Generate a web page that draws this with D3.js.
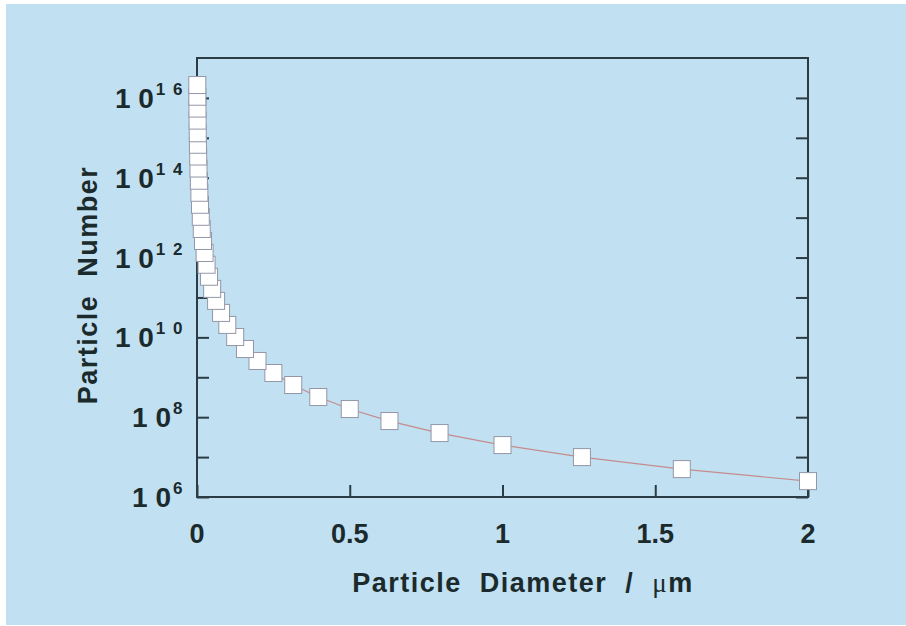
<!DOCTYPE html>
<html>
<head>
    <script type="text/javascript" src="https://cdn.jsdelivr.net/npm/d3@7"></script>
    <style>
        body { margin: 0; background: #ffffff; }
        text { font-family: "Liberation Sans", Arial, sans-serif; font-weight: bold; fill: #1b2a2c; }
    </style>
</head>
<body>
    <div id="chart"></div>
    <script type="text/javascript">

        // particle diameter (um) and particle number
        let diameters = [2, 1.587, 1.26, 1, 0.794, 0.63, 0.5, 0.397, 0.315, 0.25,
            0.198, 0.157, 0.125, 0.0992, 0.0787, 0.0625, 0.0496, 0.0394, 0.0313, 0.0248,
            0.0197, 0.0156, 0.0124, 0.00984, 0.00781, 0.0062, 0.00492, 0.0039, 0.0031, 0.00246,
            0.00195, 0.00155, 0.00123, 0.000977];
        let numbers = [2.5e6, 5e6, 1e7, 2e7, 4e7, 8e7, 1.6e8, 3.2e8, 6.4e8, 1.28e9,
            2.56e9, 5.1e9, 1.02e10, 2.05e10, 4.1e10, 8.2e10, 1.64e11, 3.3e11, 6.6e11, 1.3e12,
            2.6e12, 5.2e12, 1.05e13, 2.1e13, 4.2e13, 8.4e13, 1.7e14, 3.4e14, 6.7e14, 1.3e15,
            2.7e15, 5.4e15, 1.07e16, 2.1e16];
        let xTicks = [0, 0.5, 1, 1.5, 2];
        let xTickLabels = ["0", "0.5", "1", "1.5", "2"];
        let yTicks = [1e6, 1e7, 1e8, 1e9, 1e10, 1e11, 1e12, 1e13, 1e14, 1e15, 1e16];
        let yLabelExps = ["6", "8", "1 0", "1 2", "1 4", "1 6"];
        let yLabelValues = [1e6, 1e8, 1e10, 1e12, 1e14, 1e16];

        let points = [];
        for (let i = 0; i < diameters.length; i++) {
            points.push([diameters[i], numbers[i]]);
        };

        let plotLeft = 197, plotRight = 808, plotTop = 58, plotBottom = 497;
        let axisColor = "#2b3c44";

        let x = d3.scaleLinear().domain([0, 2]).range([plotLeft, plotRight]);
        let y = d3.scaleLog().domain([1e6, 1e17]).range([plotBottom, plotTop]);

        let svg = d3.select("#chart")
            .append("svg")
            .attr("width", 906)
            .attr("height", 626);

        svg.append("rect")
            .attr("x", 6).attr("y", 4)
            .attr("width", 900).attr("height", 621)
            .style("fill", "#c1e0f1");

        // inward ticks on three sides
        let gLeft = svg.append("g").attr("transform", `translate(${plotLeft},0)`)
            .call(d3.axisLeft(y).tickValues(yTicks).tickSize(-12).tickFormat(""));
        let gRight = svg.append("g").attr("transform", `translate(${plotRight},0)`)
            .call(d3.axisRight(y).tickValues(yTicks).tickSize(-12).tickFormat(""));
        let gBottom = svg.append("g").attr("transform", `translate(0,${plotBottom})`)
            .call(d3.axisBottom(x).tickValues(xTicks).tickSize(-12).tickFormat(""));
        [gLeft, gRight, gBottom].forEach(g => {
            g.select(".domain").remove();
            g.selectAll("line").style("stroke", axisColor).style("stroke-width", 2);
        });

        svg.append("rect")
            .attr("x", plotLeft).attr("y", plotTop)
            .attr("width", plotRight - plotLeft).attr("height", plotBottom - plotTop)
            .style("fill", "none")
            .style("stroke", axisColor)
            .style("stroke-width", 2);

        // x tick labels
        svg.selectAll("text.xlab")
            .data(xTicks)
            .enter()
            .append("text")
            .attr("class", "xlab")
            .attr("x", d => x(d))
            .attr("y", plotBottom + 46)
            .attr("text-anchor", "middle")
            .style("font-size", "27px")
            .text((d, i) => xTickLabels[i]);

        // y tick labels 10^n
        let ylab = svg.selectAll("text.ylab")
            .data(yLabelValues)
            .enter()
            .append("text")
            .attr("class", "ylab")
            .attr("x", 184)
            .attr("y", d => y(d) + 10)
            .attr("text-anchor", "end")
            .attr("xml:space", "preserve");
        ylab.append("tspan").style("font-size", "28px").text("1 0");
        ylab.append("tspan").style("font-size", "17px").style("letter-spacing", "1.5px")
            .attr("dy", -13).attr("dx", 2)
            .text((d, i) => yLabelExps[i]);

        // axis titles
        let xt = svg.append("text")
            .attr("x", 523).attr("y", 592)
            .attr("text-anchor", "middle")
            .attr("xml:space", "preserve")
            .style("font-size", "27px")
            .style("letter-spacing", "1.5px");
        xt.append("tspan").text("Particle  Diameter  /  ");
        xt.append("tspan")
            .style("font-family", "'Liberation Serif', serif")
            .style("font-weight", "normal")
            .text("\u03bc");
        xt.append("tspan").text("m");

        svg.append("text")
            .attr("transform", "translate(97,285) rotate(-90)")
            .attr("text-anchor", "middle")
            .attr("xml:space", "preserve")
            .style("font-size", "27px")
            .style("letter-spacing", "1.5px")
            .text("Particle  Number");

        // connecting line then markers
        let line = d3.line().x(d => x(d[0])).y(d => y(d[1]));
        svg.append("path")
            .datum(points)
            .attr("d", line)
            .style("fill", "none")
            .style("stroke", "#c48c8c")
            .style("stroke-width", 1.2);

        let size = 17;
        svg.selectAll("rect.pt")
            .data(points)
            .enter()
            .append("rect")
            .attr("class", "pt")
            .attr("x", d => x(d[0]) - size / 2)
            .attr("y", d => y(d[1]) - size / 2)
            .attr("width", size)
            .attr("height", size)
            .style("fill", "#ffffff")
            .style("stroke", "#9397a8")
            .style("stroke-width", 1);

    </script>
</body>
</html>
